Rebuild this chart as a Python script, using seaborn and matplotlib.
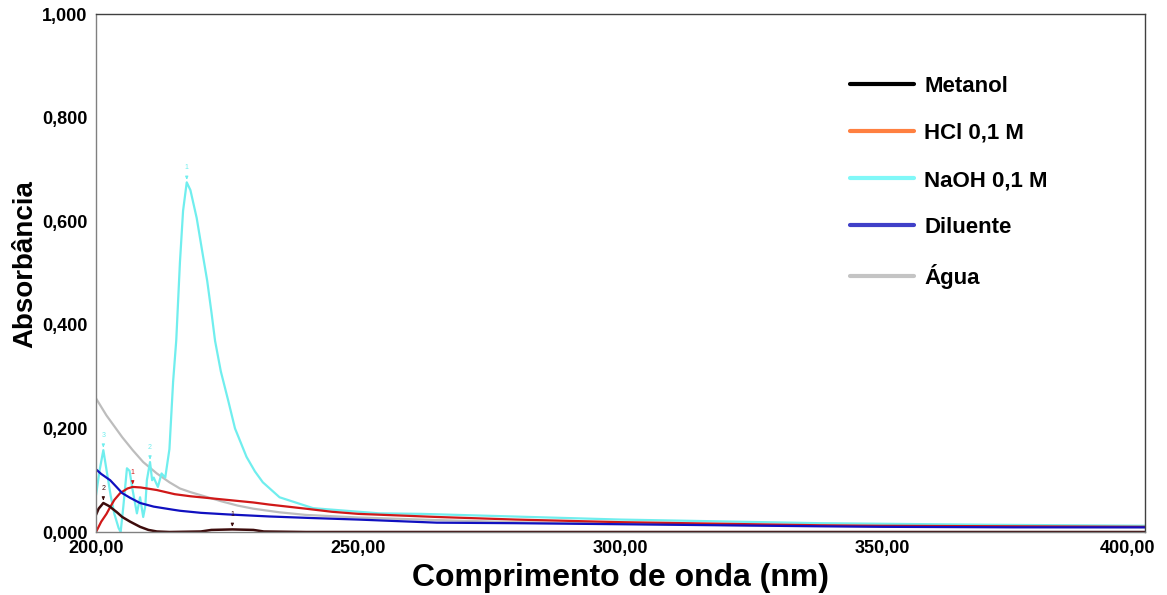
import matplotlib
matplotlib.use("Agg")
import matplotlib.pyplot as plt
import matplotlib.transforms as mtransforms
from matplotlib.lines import Line2D
import seaborn as sns

# readings taken from the spectrum (wavelength in nm, absorbance)
agua_nm = [200, 202, 204, 205, 207, 209, 211.6, 214, 216, 218, 221, 224, 227, 230, 235, 240,
           250, 265, 280, 300, 325, 350, 375, 400]
agua_abs = [0.258, 0.225, 0.197, 0.183, 0.158, 0.135, 0.113, 0.096, 0.084, 0.077, 0.068, 0.059,
            0.051, 0.045, 0.038, 0.033, 0.028, 0.023, 0.019, 0.016, 0.013, 0.011, 0.010, 0.009]

hcl_nm = [200, 201, 202, 202.7, 203.5, 204.6, 206, 207, 208.5, 211.6, 215, 218, 222, 226, 230,
          233, 240, 245, 250, 265, 280, 300, 325, 338, 350, 375, 400]
hcl_abs = [0.0, 0.02, 0.035, 0.048, 0.062, 0.075, 0.084, 0.087, 0.086, 0.081, 0.073, 0.069,
           0.065, 0.061, 0.057, 0.053, 0.045, 0.039, 0.035, 0.029, 0.024, 0.019, 0.015, 0.013,
           0.012, 0.011, 0.010]

diluente_nm = [200, 201, 202.7, 204, 205, 206.5, 208.4, 211, 214.7, 216, 220, 225, 233, 241, 250,
               265, 280, 300, 338, 350, 375, 400]
diluente_abs = [0.121, 0.112, 0.100, 0.086, 0.075, 0.066, 0.056, 0.049, 0.043, 0.041, 0.037,
                0.034, 0.030, 0.027, 0.024, 0.018, 0.017, 0.015, 0.011, 0.010, 0.009, 0.009]

naoh_nm = [200, 200.7, 201.4, 202, 202.8, 203.5, 204.3, 204.7, 205.2, 205.9, 206.4, 207, 207.8,
           208.4, 209, 209.4, 209.7, 210.3, 210.7, 211, 211.8, 212.5, 213.2, 214, 214.7, 215.3,
           216, 216.6, 217.3, 218, 219.2, 220.2, 221.2, 222, 222.7, 223.8, 225.2, 226.5, 228.7,
           230.3, 231.8, 235, 241.4, 254, 262, 300, 338, 370, 400]
naoh_abs = [0.071, 0.12, 0.158, 0.12, 0.07, 0.035, 0.008, 0.0, 0.048, 0.123, 0.118, 0.08, 0.036,
            0.067, 0.029, 0.05, 0.10, 0.135, 0.10, 0.105, 0.087, 0.113, 0.105, 0.16, 0.29, 0.37,
            0.52, 0.62, 0.675, 0.66, 0.606, 0.545, 0.485, 0.425, 0.369, 0.31, 0.254, 0.200, 0.145,
            0.117, 0.096, 0.067, 0.046, 0.036, 0.035, 0.024, 0.017, 0.014, 0.012]

metanol_nm = [200, 200.5, 201.4, 202.5, 204, 205, 206.5, 208.4, 210, 211.6, 214, 220, 222, 226,
              230, 232, 240, 300, 400]
metanol_abs = [0.033, 0.045, 0.056, 0.050, 0.038, 0.029, 0.020, 0.010, 0.004, 0.001, 0.0, 0.001,
               0.004, 0.005, 0.004, 0.001, 0.0, 0.0, 0.0]

# little peak markers drawn by the instrument software
peak_nm = [201.4, 226, 207, 201.4, 210.3, 217.3]
peak_abs = [0.056, 0.005, 0.087, 0.158, 0.135, 0.675]
peak_txt = ["2", "1", "1", "3", "2", "1"]
peak_col = ["#3d0c0c", "#3d0c0c", "#d01818", "#70eeee", "#70eeee", "#70eeee"]

legend_labels = ["Metanol", "HCl 0,1 M", "NaOH 0,1 M", "Diluente", "Água"]
legend_colors = ["#000000", "#ff8040", "#80f8f8", "#4040c8", "#c4c4c4"]

sns.set_style("white")
plt.rcParams["font.family"] = ["Liberation Sans", "DejaVu Sans"]
plt.rcParams["font.weight"] = "bold"
plt.rcParams["text.color"] = "black"
plt.rcParams["axes.labelcolor"] = "black"
plt.rcParams["xtick.color"] = "black"
plt.rcParams["ytick.color"] = "black"

fig = plt.figure(figsize=(11.67, 5.95), dpi=100)
ax = fig.add_axes([96 / 1167, 63 / 595, 1049 / 1167, 518 / 595])

sns.lineplot(x=agua_nm, y=agua_abs, ax=ax, color="#bdbdbd", lw=1.6)
sns.lineplot(x=naoh_nm, y=naoh_abs, ax=ax, color="#70eeee", lw=1.6, sort=False)
sns.lineplot(x=hcl_nm, y=hcl_abs, ax=ax, color="#d01818", lw=1.6)
sns.lineplot(x=diluente_nm, y=diluente_abs, ax=ax, color="#1010c0", lw=1.6)
sns.lineplot(x=metanol_nm, y=metanol_abs, ax=ax, color="#3d0c0c", lw=1.8)

for px, py, t, c in zip(peak_nm, peak_abs, peak_txt, peak_col):
    ax.annotate(t, xy=(px, py), xytext=(px, py + 0.025), ha="center", fontsize=5,
                color=c, fontweight="normal",
                arrowprops=dict(arrowstyle="-|>", color=c, lw=0.8, mutation_scale=4))

ax.set_xlim(200, 400)
ax.set_ylim(0, 1.0)
ax.set_xticks([200, 250, 300, 350, 400])
ax.set_xticklabels(["200,00", "250,00", "300,00", "350,00", "400,00"])
ax.set_yticks([0, 0.2, 0.4, 0.6, 0.8, 1.0])
ax.set_yticklabels(["0,000", "0,200", "0,400", "0,600", "0,800", "1,000"])
ax.tick_params(axis="y", direction="out", length=4, color="#808080", labelsize=13, pad=2,
               labelcolor="black")
ax.tick_params(axis="x", direction="in", length=5, color="#404040", labelsize=13, pad=6,
               labelcolor="black")
for lab in ax.get_xticklabels() + ax.get_yticklabels():
    lab.set_fontweight("bold")

# the last x label is shifted left so it stays inside the picture
last = ax.get_xticklabels()[-1]
last.set_transform(last.get_transform() + mtransforms.ScaledTranslation(-17 / 100, 0, fig.dpi_scale_trans))

for side in ["top", "right"]:
    ax.spines[side].set_color("#404040")
    ax.spines[side].set_linewidth(1.0)
for side in ["left", "bottom"]:
    ax.spines[side].set_color("#808080")
    ax.spines[side].set_linewidth(1.0)

ax.set_xlabel("Comprimento de onda (nm)", fontsize=23, fontweight="bold", labelpad=4, color="black")
ax.set_ylabel("Absorbância", fontsize=20, fontweight="bold", color="black")
ax.yaxis.set_label_coords(-0.055, 0.517)

handles = [Line2D([0], [0], color=c, lw=3) for c in legend_colors]
leg = ax.legend(handles, legend_labels, loc="upper left", bbox_to_anchor=(850 / 1167, 1 - 76 / 595),
                bbox_transform=fig.transFigure, frameon=False, fontsize=16, handlelength=2.9,
                handletextpad=0.45, labelspacing=1.17, borderpad=0, borderaxespad=0)
for txt in leg.get_texts():
    txt.set_fontweight("bold")
    txt.set_color("black")

fig.savefig("out.png", dpi=100)
